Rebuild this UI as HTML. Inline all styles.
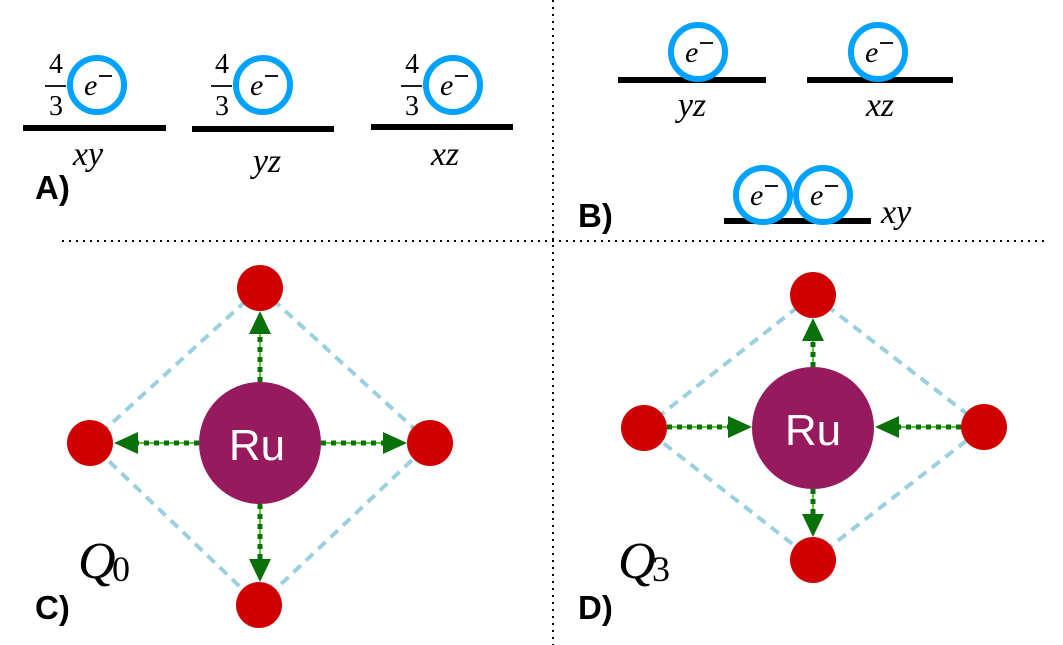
<!DOCTYPE html>
<html><head><meta charset="utf-8"><style>
html,body{margin:0;padding:0;background:#fff;}
svg{display:block;}
.m{font-family:"Liberation Serif",serif;font-style:italic;}
.n{font-family:"Liberation Serif",serif;}
.b{font-family:"Liberation Sans",sans-serif;font-weight:bold;}
</style></head><body>
<svg width="1063" height="645" viewBox="0 0 1063 645" xmlns="http://www.w3.org/2000/svg">
<!-- dividers -->
<line x1="553" y1="0" x2="553" y2="645" stroke="#000" stroke-width="2" stroke-dasharray="2,5"/>
<line x1="62" y1="241" x2="1045" y2="241" stroke="#000" stroke-width="2" stroke-dasharray="2,5"/>

<!-- Panel A -->
<g stroke="#000" stroke-width="6">
<line x1="23" y1="128" x2="166" y2="128"/>
<line x1="192" y1="129" x2="334" y2="129"/>
<line x1="371" y1="127" x2="513" y2="127"/>
</g>
<g fill="none" stroke="#00a2ff" stroke-width="6">
<circle cx="97" cy="85" r="27"/>
<circle cx="263" cy="85" r="27"/>
<circle cx="453" cy="85" r="27"/>
</g>
<g class="n" font-size="28" text-anchor="middle">
<text x="56" y="73">4</text><text x="56" y="115">3</text>
<text x="222" y="73">4</text><text x="222" y="115">3</text>
<text x="412" y="73">4</text><text x="412" y="115">3</text>
</g>
<g stroke="#000" stroke-width="1.8">
<line x1="45" y1="86" x2="66" y2="86"/><line x1="211" y1="86" x2="232" y2="86"/><line x1="401" y1="86" x2="422" y2="86"/>
</g>
<g class="m" font-size="30">
<text x="84" y="95">e</text>
<text x="250" y="95">e</text>
<text x="440" y="95">e</text>
</g>
<g stroke="#000" stroke-width="1.8">
<line x1="99" y1="76" x2="112" y2="76"/><line x1="265" y1="76" x2="278" y2="76"/><line x1="455" y1="76" x2="468" y2="76"/>
</g>
<g class="m" font-size="34" text-anchor="middle">
<text x="88" y="165">xy</text><text x="267" y="172">yz</text><text x="445" y="165">xz</text>
</g>
<text class="b" x="35" y="199" font-size="33">A)</text>

<!-- Panel B -->
<g stroke="#000" stroke-width="6">
<line x1="618" y1="80" x2="766" y2="80"/>
<line x1="807" y1="80" x2="953" y2="80"/>
<line x1="724" y1="221" x2="871" y2="221"/>
</g>
<g fill="#fff" stroke="#00a2ff" stroke-width="6">
<circle cx="698" cy="52" r="27"/>
<circle cx="878" cy="52" r="27"/>
<circle cx="763" cy="195" r="27"/>
<circle cx="823" cy="195" r="27"/>
</g>
<g class="m" font-size="30">
<text x="685" y="62">e</text>
<text x="865" y="62">e</text>
<text x="750" y="205">e</text>
<text x="810" y="205">e</text>
</g>
<g stroke="#000" stroke-width="1.8">
<line x1="700" y1="43" x2="713" y2="43"/><line x1="880" y1="43" x2="893" y2="43"/>
<line x1="765" y1="186" x2="778" y2="186"/><line x1="825" y1="186" x2="838" y2="186"/>
</g>
<g class="m" font-size="34" text-anchor="middle">
<text x="692" y="116">yz</text><text x="880" y="116">xz</text>
</g>
<text class="m" x="881" y="223" font-size="34">xy</text>
<text class="b" x="578" y="227" font-size="33">B)</text>

<!-- Panel C -->
<g stroke="#9ad0e0" stroke-width="4" stroke-dasharray="10,7" fill="none">
<polygon points="260,288 430,443 259,605 90,443"/>
</g>
<g>
<line x1="260" y1="382" x2="260" y2="330" stroke="#55cc33" stroke-width="2"/>
<line x1="260" y1="382" x2="260" y2="330" stroke="#0a700a" stroke-width="5" stroke-dasharray="5,5"/>
<polygon points="260,311 249,334 271,334" fill="#0a700a"/>
<line x1="260" y1="504" x2="260" y2="560" stroke="#55cc33" stroke-width="2"/>
<line x1="260" y1="504" x2="260" y2="560" stroke="#0a700a" stroke-width="5" stroke-dasharray="5,5"/>
<polygon points="260,582 249,559 271,559" fill="#0a700a"/>
<line x1="199" y1="443" x2="135" y2="443" stroke="#55cc33" stroke-width="2"/>
<line x1="199" y1="443" x2="135" y2="443" stroke="#0a700a" stroke-width="5" stroke-dasharray="5,5"/>
<polygon points="114,443 138,432 138,454" fill="#0a700a"/>
<line x1="321" y1="443" x2="385" y2="443" stroke="#55cc33" stroke-width="2"/>
<line x1="321" y1="443" x2="385" y2="443" stroke="#0a700a" stroke-width="5" stroke-dasharray="5,5"/>
<polygon points="407,443 383,432 383,454" fill="#0a700a"/>
</g>
<g fill="#d10000">
<circle cx="260" cy="288" r="23"/><circle cx="430" cy="443" r="23"/><circle cx="259" cy="605" r="23"/><circle cx="90" cy="443" r="23"/>
</g>
<circle cx="260" cy="443" r="61" fill="#981a5e"/>
<text x="257" y="460" font-family="Liberation Sans,sans-serif" font-size="44" fill="#fff" text-anchor="middle">Ru</text>
<text class="m" x="78" y="578" font-size="52">Q</text><text class="n" x="112" y="581" font-size="36">0</text>
<text class="b" x="35" y="619" font-size="33">C)</text>

<!-- Panel D -->
<g stroke="#9ad0e0" stroke-width="4" stroke-dasharray="10,7" fill="none">
<polygon points="813,295 984,427 813,560 644,428"/>
</g>
<g>
<line x1="813" y1="367" x2="813" y2="340" stroke="#55cc33" stroke-width="2"/>
<line x1="813" y1="367" x2="813" y2="340" stroke="#0a700a" stroke-width="5" stroke-dasharray="5,5"/>
<polygon points="813,318 802,341 824,341" fill="#0a700a"/>
<line x1="813" y1="489" x2="813" y2="515" stroke="#55cc33" stroke-width="2"/>
<line x1="813" y1="489" x2="813" y2="515" stroke="#0a700a" stroke-width="5" stroke-dasharray="5,5"/>
<polygon points="813,537 802,514 824,514" fill="#0a700a"/>
<line x1="667" y1="427" x2="730" y2="427" stroke="#55cc33" stroke-width="2"/>
<line x1="667" y1="427" x2="730" y2="427" stroke="#0a700a" stroke-width="5" stroke-dasharray="5,5"/>
<polygon points="752,427 728,416 728,438" fill="#0a700a"/>
<line x1="961" y1="427" x2="898" y2="427" stroke="#55cc33" stroke-width="2"/>
<line x1="961" y1="427" x2="898" y2="427" stroke="#0a700a" stroke-width="5" stroke-dasharray="5,5"/>
<polygon points="875,427 899,416 899,438" fill="#0a700a"/>
</g>
<g fill="#d10000">
<circle cx="813" cy="295" r="23"/><circle cx="984" cy="427" r="23"/><circle cx="813" cy="560" r="23"/><circle cx="644" cy="428" r="23"/>
</g>
<circle cx="813" cy="428" r="61" fill="#981a5e"/>
<text x="813" y="445" font-family="Liberation Sans,sans-serif" font-size="44" fill="#fff" text-anchor="middle">Ru</text>
<text class="m" x="618" y="578" font-size="52">Q</text><text class="n" x="652" y="581" font-size="36">3</text>
<text class="b" x="578" y="619" font-size="33">D)</text>
</svg>
</body></html>
